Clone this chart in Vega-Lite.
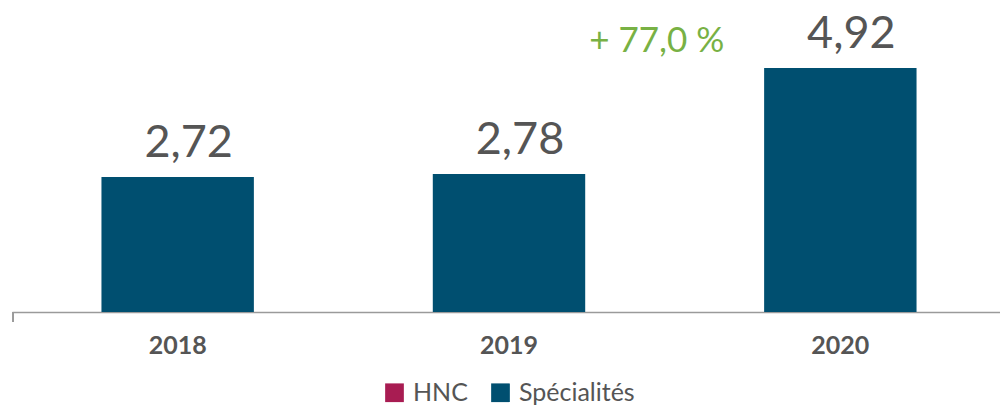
{
  "$schema": "https://vega.github.io/schema/vega-lite/v6.json",
  "autosize": "none",
  "width": 994,
  "height": 312,
  "padding": {"top": 0, "left": 12, "right": 0, "bottom": 99},
  "background": "white",
  "config": {"view": {"stroke": null}, "font": "Lato"},
  "data": {"values": [
    {"year": "2018", "value": 2.72, "label": "2,72", "serie": "Spécialités"},
    {"year": "2019", "value": 2.78, "label": "2,78", "serie": "Spécialités"},
    {"year": "2020", "value": 4.92, "label": "4,92", "serie": "Spécialités", "growth": "+ 77,0 %"}
  ]},
  "encoding": {
    "x": {"field": "year", "type": "nominal", "sort": null,
      "scale": {"paddingInner": 0.54, "paddingOuter": 0.27},
      "axis": {"title": null, "labelAngle": 0, "labelFontSize": 25, "labelFontWeight": "bold", "labelColor": "#555555", "labelPadding": 21, "ticks": false, "domainColor": "#9a9a9a", "domainWidth": 1.5, "labelFont": "Lato"}},
    "y": {"field": "value", "type": "quantitative", "scale": {"domain": [0, 6.29], "nice": false}, "axis": null}
  },
  "layer": [
    {"mark": {"type": "bar"},
     "encoding": {"color": {"field": "serie", "type": "nominal",
       "scale": {"domain": ["HNC", "Spécialités"], "range": ["#a81c52", "#004f70"]},
       "legend": {"title": null, "orient": "none", "direction": "horizontal", "legendX": 370, "legendY": 380, "symbolType": "square", "symbolSize": 350, "symbolStrokeWidth": 0, "labelFontSize": 25, "labelColor": "#555555", "labelFont": "Lato", "columnPadding": 20, "labelOffset": 6}}}},
    {"mark": {"type": "text", "baseline": "alphabetic", "dx": 11, "dy": -20, "fontSize": 45, "color": "#555555", "font": "Lato"},
     "encoding": {"text": {"field": "label"}}},
    {"transform": [{"filter": "isValid(datum.growth)"}],
     "mark": {"type": "text", "baseline": "alphabetic", "align": "right", "dx": -116, "dy": -16, "fontSize": 35, "color": "#78b144", "font": "Lato"},
     "encoding": {"text": {"field": "growth"}}},
    {"mark": {"type": "rule", "color": "#9a9a9a", "strokeWidth": 1.5},
     "encoding": {"x": {"datum": "2018", "bandPosition": -0.58}, "y": {"datum": 0}, "y2": {"datum": -0.2}}}
  ]
}
